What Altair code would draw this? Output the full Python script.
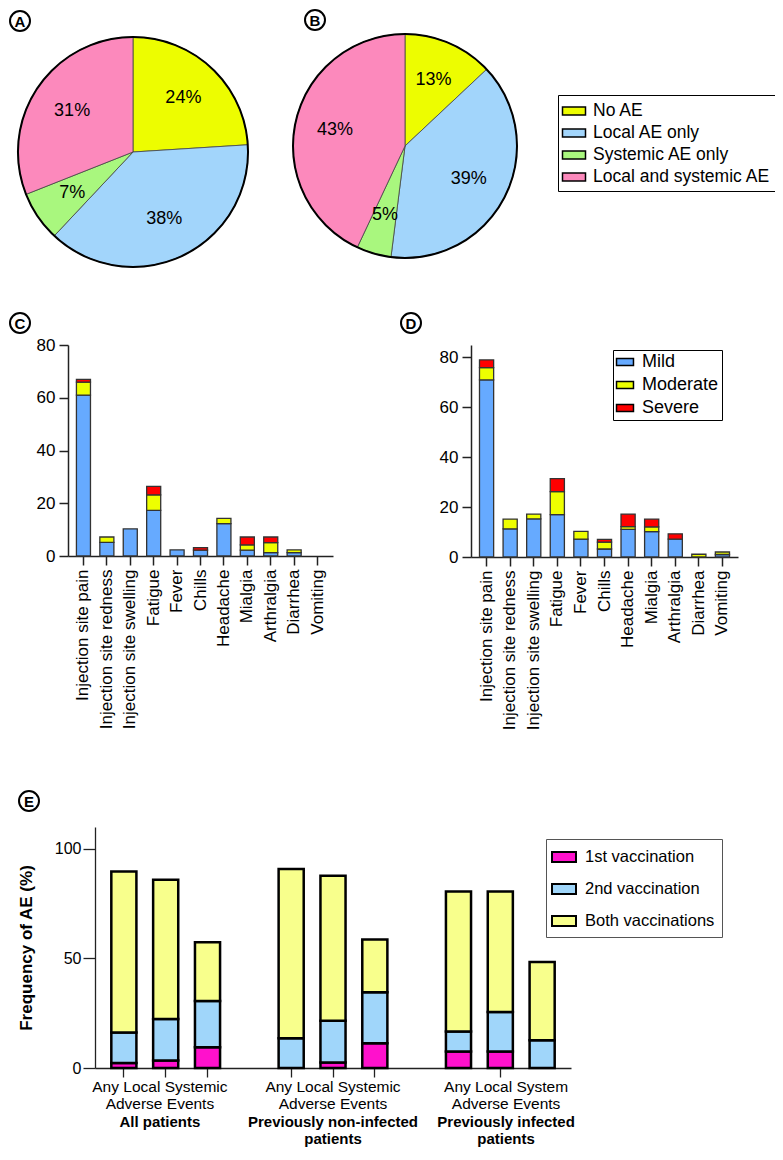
import altair as alt
import pandas as pd

FONT = "Liberation Sans"
W, H = 767, 1144

# ---------------- Panel A / B (pies) ----------------
pie_cats = ["No AE", "Local AE only", "Systemic AE only", "Local and systemic AE"]
pie_colors = ["#EDFD00", "#A2D5FB", "#A9F77E", "#FC89BC"]
pie_a_vals = [24, 38, 7, 31]
pie_b_vals = [13, 39, 5, 43]

# ---------------- Panel C / D (severity by symptom) ----------------
symptoms = ["Injection site pain", "Injection site redness", "Injection site swelling",
            "Fatigue", "Fever", "Chills", "Headache", "Mialgia", "Arthralgia",
            "Diarrhea", "Vomiting"]
sev_levels = ["Mild", "Moderate", "Severe"]
sev_colors = ["#66AAFF", "#EEFF00", "#FF0000"]
c_mild = [61.0, 5.2, 10.3, 17.3, 2.3, 2.2, 12.3, 2.2, 1.3, 1.3, 0]
c_moderate = [4.9, 2.0, 0, 5.9, 0, 0, 2.0, 2.0, 3.8, 1.0, 0]
c_severe = [1.1, 0, 0, 3.2, 0, 1.0, 0, 3.0, 2.1, 0, 0]
d_mild = [71.0, 11.3, 15.3, 17.0, 7.2, 3.2, 11.1, 10.2, 7.2, 0, 1.0]
d_moderate = [4.9, 3.9, 1.9, 9.2, 3.1, 2.8, 1.1, 1.9, 0, 1.1, 1.0]
d_severe = [3.1, 0, 0, 5.2, 0, 1.1, 5.0, 3.1, 2.1, 0, 0]

# ---------------- Panel E ----------------
e_slots = ["AP Any", "AP Local", "AP Systemic", "gap 1",
           "NI Any", "NI Local", "NI Systemic", "gap 2",
           "PI Any", "PI Local", "PI Systemic"]
e_bar_slots = ["AP Any", "AP Local", "AP Systemic",
               "NI Any", "NI Local", "NI Systemic",
               "PI Any", "PI Local", "PI Systemic"]
e_series = ["1st vaccination", "2nd vaccination", "Both vaccinations"]
e_colors = ["#FF11CC", "#A0D6FA", "#F8FF8C"]
e_first = [2.3, 3.4, 9.5, 0, 2.5, 11.3, 7.5, 7.5, 0]
e_second = [13.9, 19.0, 21.1, 13.6, 19.1, 23.3, 9.2, 18.1, 12.7]
e_both = [73.5, 63.5, 26.8, 77.2, 66.1, 24.1, 63.9, 55.0, 35.7]
e_tick_slots = ["AP Any", "AP Local", "AP Systemic",
                "NI Any", "NI Local", "NI Systemic", "PI Local"]
e_group_slots = ["AP Local", "NI Local", "PI Local"]
e_group_line1 = ["Any Local Systemic", "Any Local Systemic", "Any Local System"]
e_group_line2 = ["Adverse Events", "Adverse Events", "Adverse Events"]
e_group_names = ["All patients", "Previously non-infected\npatients",
                 "Previously infected\npatients"]

layers = []


def letter(ch, x, y):
    df = pd.DataFrame({"t": [ch]})
    c = alt.Chart(df).mark_point(shape="circle", size=400, filled=True, fill="white",
                                 fillOpacity=1, stroke="black", strokeWidth=2,
                                 strokeOpacity=1, opacity=1).encode(
        x=alt.value(x), y=alt.value(y))
    t = alt.Chart(df).mark_text(fontSize=15, fontWeight="bold", color="black",
                                baseline="middle", align="center").encode(
        x=alt.value(x), y=alt.value(y + 1), text="t:N")
    return [c, t]


def pie(vals, cx, cy, r, legend):
    df = pd.DataFrame({"cat": pie_cats, "v": vals, "o": list(range(len(vals))),
                       "lab": [f"{v}%" for v in vals]})
    base = alt.Chart(df).encode(theta=alt.Theta("v:Q", stack=True),
                                order=alt.Order("o:Q"),
                                x=alt.value(cx), y=alt.value(cy))
    arcs = base.mark_arc(outerRadius=r, stroke="#444", strokeWidth=0.8).encode(
        color=alt.Color("cat:N", scale=alt.Scale(domain=pie_cats, range=pie_colors),
                        legend=legend))
    labels = base.mark_text(radius=r * 0.64, fontSize=18, color="black").encode(
        text="lab:N", detail="cat:N")
    ring = alt.Chart(pd.DataFrame({"v": [sum(vals)]})).mark_arc(
        outerRadius=r, fillOpacity=0, stroke="black", strokeWidth=2).encode(
        theta=alt.Theta("v:Q"), x=alt.value(cx), y=alt.value(cy))
    return [arcs, labels, ring]


pie_legend = alt.Legend(title=None, orient="none", legendX=550, legendY=87,
                        labelFontSize=17.5, labelColor="black", labelLimit=400,
                        symbolType="M-1.15,-0.4H1.15V0.4H-1.15Z", symbolSize=400,
                        symbolStrokeColor="black", symbolStrokeWidth=1.5,
                        symbolOpacity=1, strokeColor="black", fillColor="white",
                        padding=5, rowPadding=2, labelOffset=8)

layers += pie(pie_a_vals, 125, 144, 115, None) + letter("A", 12, 13)
layers += pie(pie_b_vals, 397, 138, 112, pie_legend) + letter("B", 307, 12)


def sev_layer(mild, mod, sev, ymax, x0, x1, ytop, ybot, legend):
    rows = []
    for i, s in enumerate(symptoms):
        for j, vals in enumerate([mild, mod, sev]):
            rows.append({"sym": s, "lvl": sev_levels[j], "o": j, "v": vals[i]})
    df = pd.DataFrame(rows)
    return alt.Chart(df).transform_filter("datum.v > 0").mark_bar(
        stroke="#333", strokeWidth=1.3).encode(
        x=alt.X("sym:N", sort=symptoms,
                scale=alt.Scale(domain=symptoms, range=[x0, x1],
                                paddingInner=0.40, paddingOuter=0.36),
                axis=alt.Axis(title=None, orient="bottom", offset=ybot - H,
                              labelAngle=-90, labelFontSize=17,
                              labelColor="black", tickSize=9, labelPadding=4,
                              domainColor="#222", tickColor="#222",
                              domainWidth=1.5, tickWidth=1.5, labelLimit=400)),
        y=alt.Y("v:Q", stack="zero",
                scale=alt.Scale(domain=[0, ymax], range=[ybot, ytop], nice=False),
                axis=alt.Axis(title=None, orient="left", offset=-x0,
                              values=[0, 20, 40, 60, 80], grid=False,
                              labelFontSize=17, labelColor="black", tickSize=9,
                              labelPadding=4, domainColor="#222", tickColor="#222",
                              domainWidth=1.5, tickWidth=1.5)),
        color=alt.Color("lvl:N", scale=alt.Scale(domain=sev_levels, range=sev_colors),
                        legend=legend),
        order=alt.Order("o:Q"),
    )


d_legend = alt.Legend(title=None, orient="none", legendX=605, legendY=342,
                      labelFontSize=18, labelColor="black",
                      symbolType="M-1.06,-0.44H1.06V0.44H-1.06Z", symbolSize=256,
                      symbolStrokeColor="black", symbolStrokeWidth=1.5,
                      symbolOpacity=1, strokeColor="black", fillColor="white",
                      padding=3, rowPadding=5, labelOffset=8)

layers.append(sev_layer(c_mild, c_moderate, c_severe, 80, 60, 325, 337, 548, None))
layers += letter("C", 12, 315)
layers.append(sev_layer(d_mild, d_moderate, d_severe, 85, 463, 730, 337, 549, d_legend))
layers += letter("D", 403, 315)

# ---- Panel E ----
EX0, EX1, EYT, EYB = 87, 563, 819, 1060
rows = []
for i, s in enumerate(e_bar_slots):
    for j, vals in enumerate([e_first, e_second, e_both]):
        rows.append({"slot": s, "ser": e_series[j], "o": j, "v": vals[i]})
e_df = pd.DataFrame(rows)


def e_scale():
    return alt.Scale(domain=e_slots, range=[EX0, EX1], paddingInner=0.40,
                     paddingOuter=0.39)


e_legend = alt.Legend(title=None, orient="none", legendX=538, legendY=831,
                      labelFontSize=16.5, labelColor="black", labelLimit=400,
                      symbolType="M-1.2,-0.5H1.2V0.5H-1.2Z", symbolSize=400,
                      symbolStrokeColor="black", symbolStrokeWidth=2,
                      symbolOpacity=1, strokeColor="#555", fillColor="white",
                      padding=7, rowPadding=12, labelOffset=10)
e_bars = alt.Chart(e_df).transform_filter("datum.v > 0").mark_bar(
    stroke="black", strokeWidth=2.5).encode(
    x=alt.X("slot:N", scale=e_scale(),
            axis=alt.Axis(title=None, orient="bottom", offset=EYB - H, labels=False,
                          values=e_tick_slots, tickSize=9, domainColor="#222",
                          tickColor="#222", domainWidth=1.3, tickWidth=1.3)),
    y=alt.Y("v:Q", stack="zero",
            scale=alt.Scale(domain=[0, 110], range=[EYB, EYT], nice=False),
            axis=alt.Axis(title="Frequency of AE (%)", orient="left", offset=-EX0,
                          values=[0, 50, 100], grid=False,
                          titleFontSize=17, titleFontWeight="bold", titleColor="black",
                          titlePadding=19, labelFontSize=16, labelColor="black",
                          tickSize=12, labelPadding=2, domainColor="#222",
                          tickColor="#222", domainWidth=1.3, tickWidth=1.3)),
    color=alt.Color("ser:N", scale=alt.Scale(domain=e_series, range=e_colors),
                    legend=e_legend),
    order=alt.Order("o:Q"),
)
layers.append(e_bars)
g_df = pd.DataFrame({"slot": e_group_slots, "l1": e_group_line1, "l2": e_group_line2,
                     "name": e_group_names})
g_base = alt.Chart(g_df)
layers.append(g_base.mark_text(fontSize=15.5, color="black", baseline="middle").encode(
    x=alt.X("slot:N", scale=e_scale(), axis=None), y=alt.value(1079), text="l1:N"))
layers.append(g_base.mark_text(fontSize=15.5, color="black", baseline="middle").encode(
    x=alt.X("slot:N", scale=e_scale(), axis=None), y=alt.value(1096), text="l2:N"))
layers.append(g_base.mark_text(fontSize=15, fontWeight="bold", color="black",
                               baseline="top", lineBreak="\n", lineHeight=17).encode(
    x=alt.X("slot:N", scale=e_scale(), axis=None), y=alt.value(1107), text="name:N"))
layers += letter("E", 21, 793)

chart = alt.layer(*layers).resolve_scale(
    x="independent", y="independent", color="independent", theta="independent"
).properties(
    width=W, height=H, padding=0, autosize=alt.AutoSizeParams(type="none")
).configure(font=FONT).configure_view(stroke=None)

chart.save("out.html", embed_options={"renderer": "svg", "actions": False})
